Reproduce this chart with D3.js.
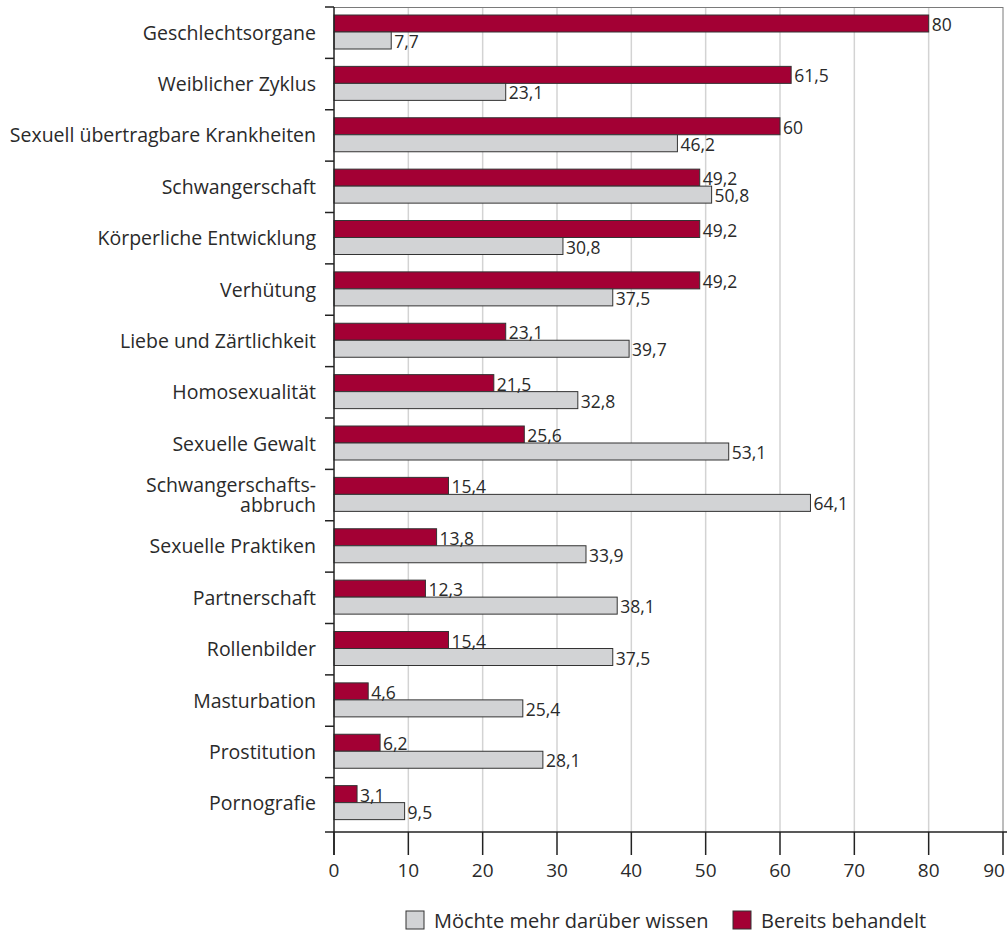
<!DOCTYPE html>
<html>
<head>
<meta charset="utf-8">
<script src="https://cdn.jsdelivr.net/npm/d3@7"></script>
<style>
  body { margin: 0; background: #fff; }
  text { font-family: "Open Sans", sans-serif; fill: #2a2a2a; }
</style>
</head>
<body>
<svg id="chart" width="1008" height="934"></svg>
<script>
// Topics (top to bottom); "\n" marks a manual line break in the label
const categories = [
  "Geschlechtsorgane", "Weiblicher Zyklus", "Sexuell übertragbare Krankheiten",
  "Schwangerschaft", "Körperliche Entwicklung", "Verhütung",
  "Liebe und Zärtlichkeit", "Homosexualität", "Sexuelle Gewalt",
  "Schwangerschafts-\nabbruch", "Sexuelle Praktiken", "Partnerschaft",
  "Rollenbilder", "Masturbation", "Prostitution", "Pornografie"
];
// Percent values per topic
const bereitsBehandelt = [80, 61.5, 60, 49.2, 49.2, 49.2, 23.1, 21.5, 25.6, 15.4, 13.8, 12.3, 15.4, 4.6, 6.2, 3.1];
const mehrWissen      = [7.7, 23.1, 46.2, 50.8, 30.8, 37.5, 39.7, 32.8, 53.1, 64.1, 33.9, 38.1, 37.5, 25.4, 28.1, 9.5];
const xTicks = [0, 10, 20, 30, 40, 50, 60, 70, 80, 90];
const seriesNames = ["Möchte mehr darüber wissen", "Bereits behandelt"];

const RED = "#a30034", GREY = "#d2d3d5", STROKE = "#333";

const svg = d3.select("#chart");
const plotLeft = 334, plotRight = 1003, plotTop = 7, axisY = 832;

const x = d3.scaleLinear().domain([0, 90]).range([plotLeft, plotRight]);
const y = d3.scaleBand().domain(d3.range(categories.length)).range([plotTop, 829]);
const step = y.step();
const barH = 17, barOff = 8;

const fmt = v => String(v).replace(".", ",");

// vertical gridlines
svg.append("g").selectAll("line").data(xTicks.filter(t => t > 0 && t < 90)).join("line")
  .attr("x1", d => x(d)).attr("x2", d => x(d))
  .attr("y1", plotTop).attr("y2", axisY)
  .attr("stroke", "#d3d3d3").attr("stroke-width", 1.5);

// frame top and right
svg.append("line").attr("x1", plotLeft).attr("x2", plotRight).attr("y1", plotTop + 0.5).attr("y2", plotTop + 0.5)
  .attr("stroke", "#7a7a7a").attr("stroke-width", 1);
svg.append("line").attr("x1", plotRight).attr("x2", plotRight).attr("y1", plotTop).attr("y2", axisY)
  .attr("stroke", "#7a7a7a").attr("stroke-width", 1);

// bars
const rows = svg.append("g").selectAll("g").data(categories).join("g")
  .attr("transform", (d, i) => `translate(0,${y(i)})`);

rows.append("rect")
  .attr("x", x(0)).attr("y", barOff)
  .attr("width", (d, i) => x(bereitsBehandelt[i]) - x(0)).attr("height", barH)
  .attr("fill", RED).attr("stroke", STROKE).attr("stroke-width", 1);
rows.append("rect")
  .attr("x", x(0)).attr("y", barOff + barH)
  .attr("width", (d, i) => x(mehrWissen[i]) - x(0)).attr("height", barH)
  .attr("fill", GREY).attr("stroke", STROKE).attr("stroke-width", 1);

// value labels
rows.append("text")
  .attr("x", (d, i) => x(bereitsBehandelt[i]) + 3).attr("y", barOff + barH - 1)
  .attr("font-size", 17.5).text((d, i) => fmt(bereitsBehandelt[i]));
rows.append("text")
  .attr("x", (d, i) => x(mehrWissen[i]) + 3).attr("y", barOff + 2 * barH - 1)
  .attr("font-size", 17.5).text((d, i) => fmt(mehrWissen[i]));

// category labels
rows.append("text")
  .attr("text-anchor", "end").attr("font-size", 19.5)
  .each(function (d) {
    const lines = d.split("\n");
    const t = d3.select(this);
    const lh = 20;
    const y0 = step / 2 - (lines.length - 1) * lh / 2 + 7;
    lines.forEach((ln, k) => t.append("tspan").attr("x", 316).attr("y", y0 + k * lh).text(ln));
  });

// left axis with ticks between topics
svg.append("line").attr("x1", plotLeft).attr("x2", plotLeft).attr("y1", plotTop).attr("y2", 855)
  .attr("stroke", "#222").attr("stroke-width", 1.5);
svg.append("g").selectAll("line").data(d3.range(categories.length)).join("line")
  .attr("x1", plotLeft - 9).attr("x2", plotLeft)
  .attr("y1", d => y(d)).attr("y2", d => y(d))
  .attr("stroke", "#222").attr("stroke-width", 1.5);

// bottom axis
svg.append("line").attr("x1", plotLeft - 9).attr("x2", 1007).attr("y1", axisY).attr("y2", axisY)
  .attr("stroke", "#222").attr("stroke-width", 1.5);
svg.append("g").selectAll("line").data(xTicks).join("line")
  .attr("x1", d => x(d)).attr("x2", d => x(d))
  .attr("y1", axisY).attr("y2", 855)
  .attr("stroke", "#222").attr("stroke-width", 1.5);
svg.append("g").selectAll("text").data(xTicks).join("text")
  .attr("x", d => Math.min(x(d), 994)).attr("y", 877)
  .attr("text-anchor", "middle").attr("font-size", 19)
  .text(d => d);

// legend
const legend = [
  { name: seriesNames[0], fill: GREY, x: 406 },
  { name: seriesNames[1], fill: RED, x: 733 }
];
const lg = svg.append("g").selectAll("g").data(legend).join("g")
  .attr("transform", d => `translate(${d.x},911)`);
lg.append("rect").attr("x", 0).attr("y", 0).attr("width", 18).attr("height", 18)
  .attr("fill", d => d.fill).attr("stroke", STROKE).attr("stroke-width", 1);
lg.append("text").attr("x", 28).attr("y", 17).attr("font-size", 20).text(d => d.name);
</script>
</body>
</html>
